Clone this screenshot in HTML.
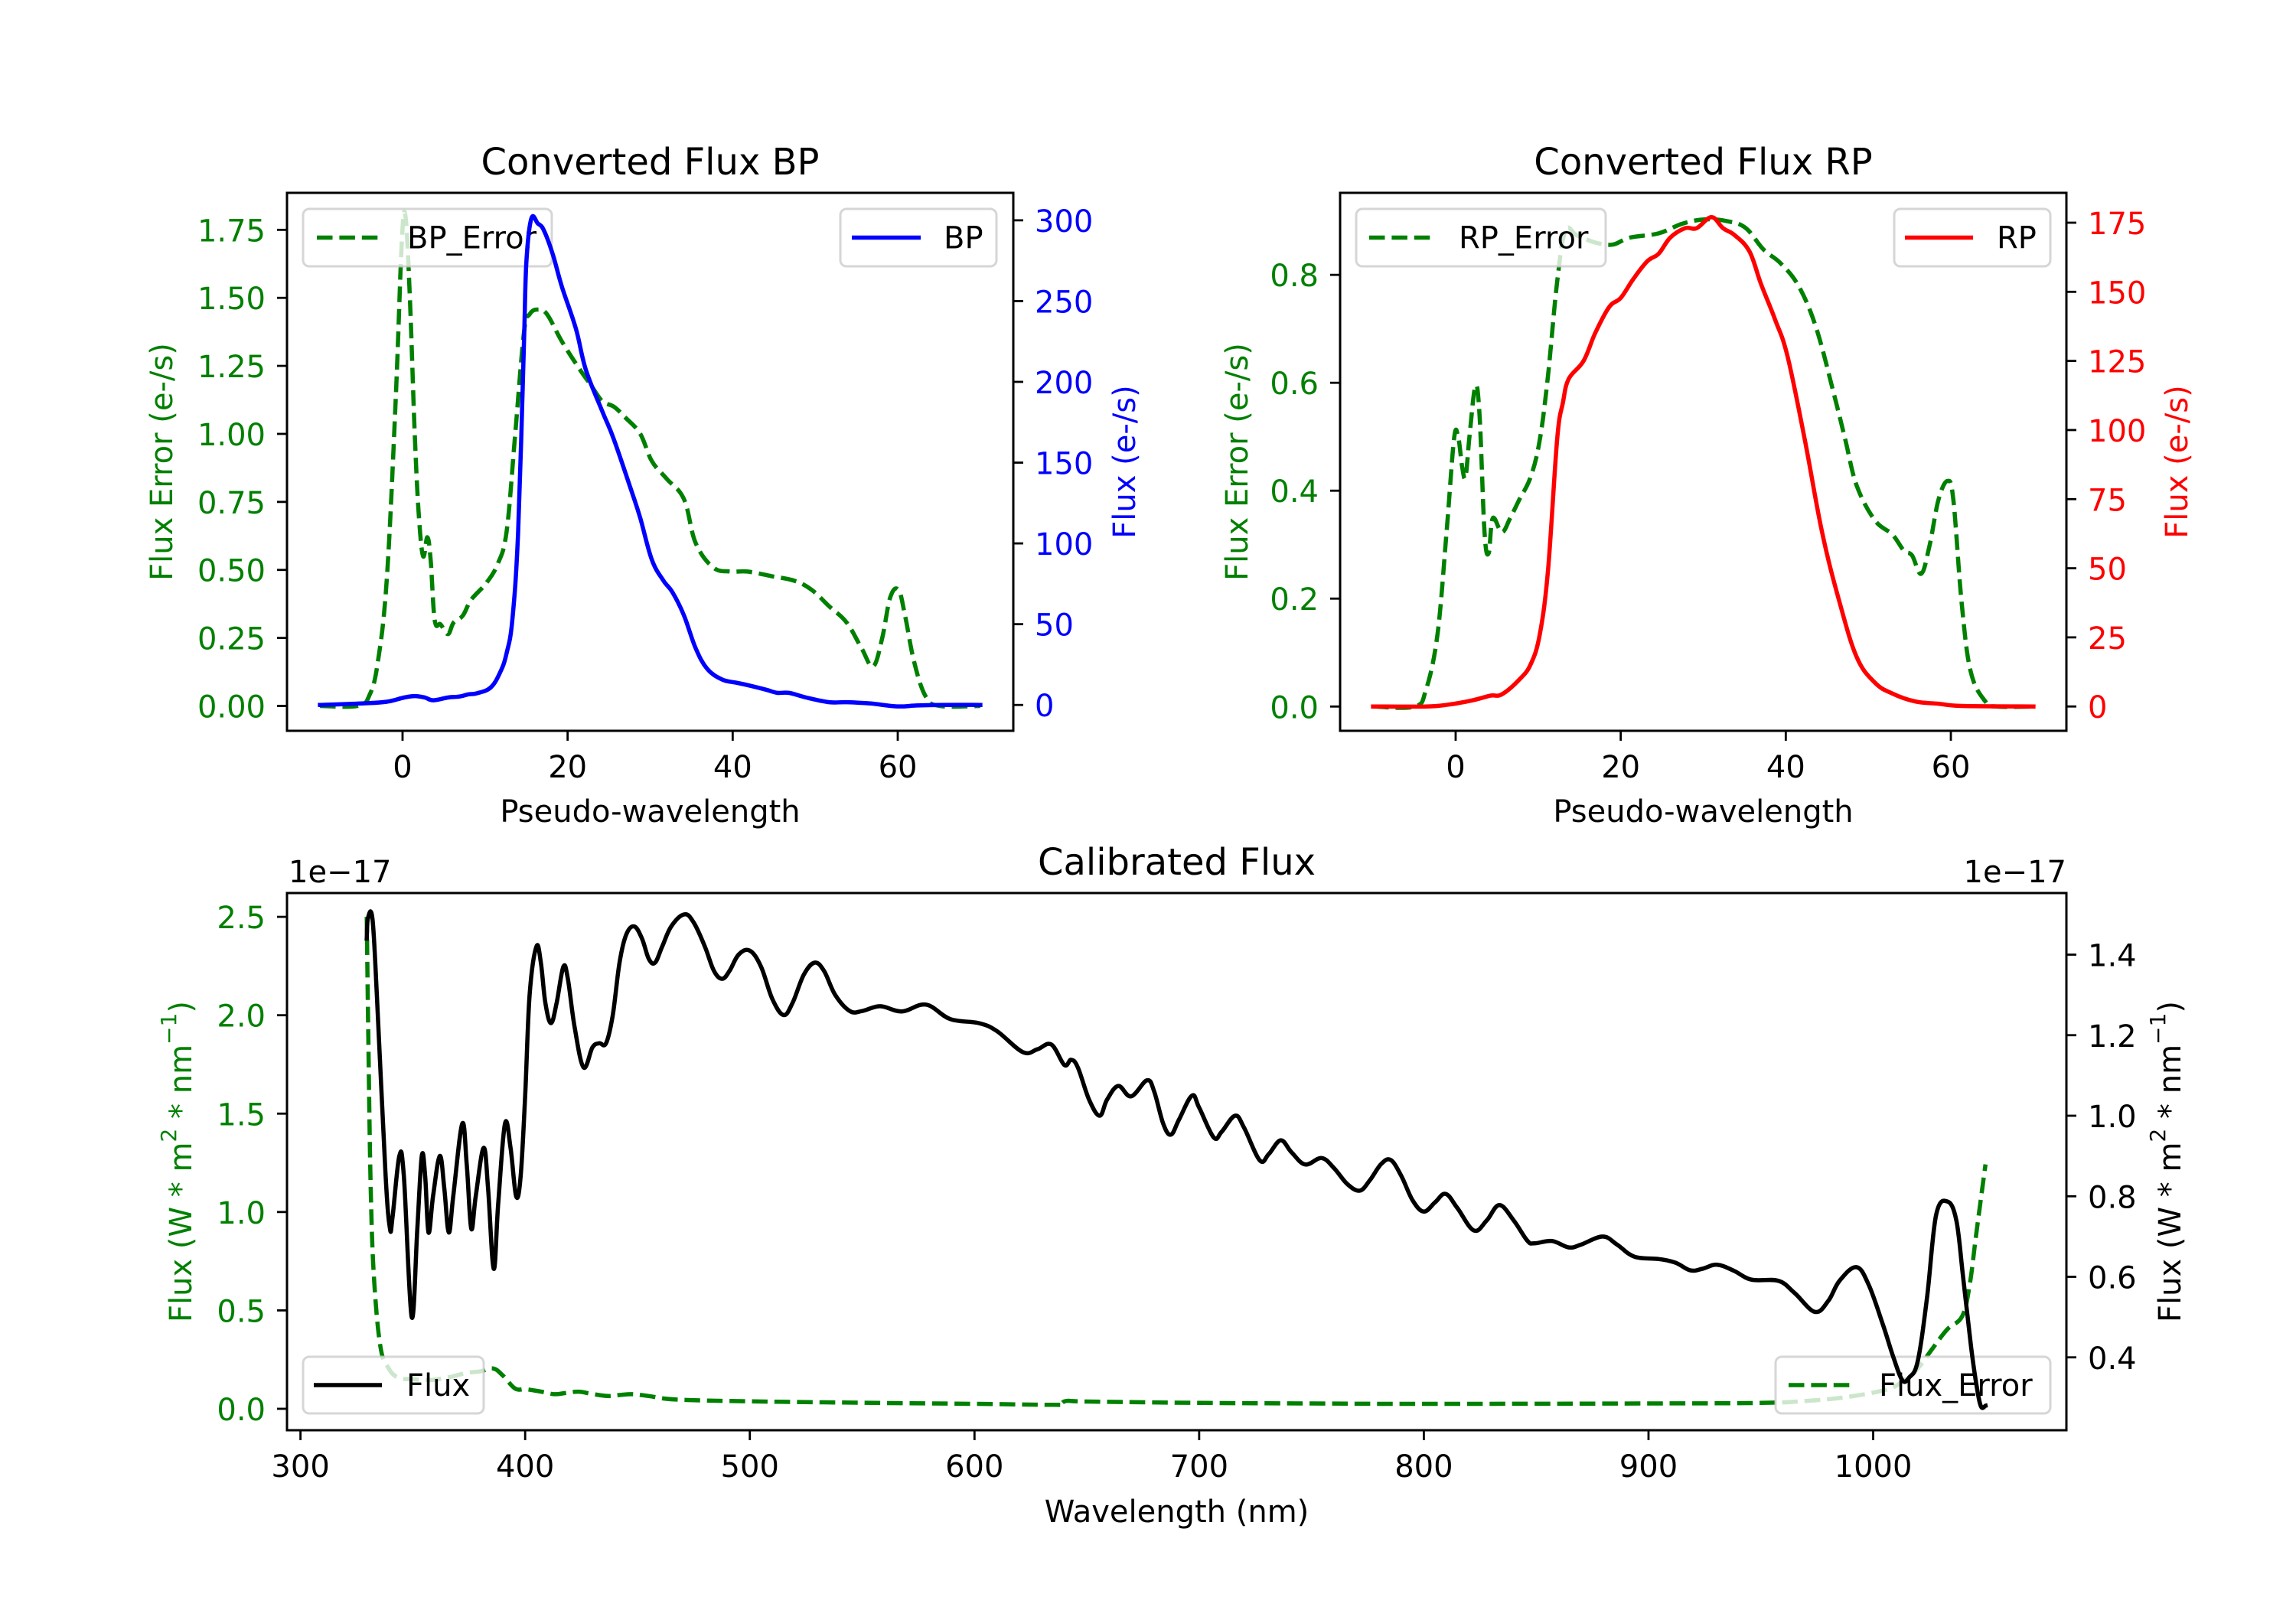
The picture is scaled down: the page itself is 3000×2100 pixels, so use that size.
<!DOCTYPE html>
<html>
<head>
<meta charset="utf-8">
<style>
html,body{margin:0;padding:0;background:#fff;}
svg{display:block;font-family:"DejaVu Sans","Liberation Sans",sans-serif;}
</style>
</head>
<body>
<svg id="chart" xmlns="http://www.w3.org/2000/svg" width="3000" height="2100" viewBox="0 0 3000 2100">
<rect x="0" y="0" width="3000" height="2100" fill="#fff"/>
</svg>
<script>
// ---------- Data ----------
const bpX = [-10,-4.7,-1.9,0.2,1.5,2.7,3.7,5.5,6.9,8,9,10.7,11.9,12.6,13.3,14,14.7,15,15.6,16.4,17.1,18.2,19.3,21,22.2,24.2,25.6,27.7,28.8,30.2,31.6,32.7,34.1,35.5,36.9,38.7,40.4,41.8,44,45.4,46.8,48.9,51.7,53.8,56.7,59.9,62.3,65.1,70];
const bpFlux = [0,1,2,4.6,5.5,4.6,2.9,4.6,5.2,6.6,7.2,10.9,21,32,52.5,107,222,273.6,301,298,294,279,259,233,207.6,181.7,164.5,133,115.7,89.9,77,69.8,55.4,35.3,22.4,15.8,13.8,12.3,9.5,7.5,7.5,4.6,1.7,1.7,0.9,-0.9,-0.3,0,0];
const bpErrX = [-10,-5.4,-4,-3,-1.9,-0.8,-0.1,0.35,0.9,1.5,2.0,2.5,3.0,3.4,3.9,4.6,5.5,6.2,7.3,8.3,10.1,11.5,12.6,13.6,14.7,15.4,16.4,17.5,19.3,21.4,22.8,24.2,25.6,27,28.8,30.2,32,34.1,35.5,37.6,39.7,41.8,44.7,47.5,49.6,51.7,53.8,55.6,57,58.1,59.1,60.1,60.9,62,63.4,65.1,70];
const bpErr = [0,0,0.04,0.16,0.47,1.15,1.70,1.80,1.49,0.98,0.69,0.55,0.62,0.54,0.315,0.30,0.264,0.307,0.332,0.39,0.45,0.52,0.64,0.98,1.37,1.44,1.457,1.44,1.34,1.24,1.18,1.12,1.10,1.06,1.0,0.90,0.835,0.76,0.60,0.51,0.494,0.494,0.477,0.46,0.426,0.366,0.307,0.213,0.145,0.247,0.40,0.426,0.33,0.16,0.034,0,0];
const rpX = [-10,-3.6,-0.8,2.0,4.2,5.6,7.7,9.1,10.2,11.2,12.3,13,13.7,15.5,16.9,18.6,20,21.5,23.2,24.6,26,27.8,29.2,31,32.4,33.8,35.6,37,38.7,40.2,42.3,44.4,46.5,48.6,50.8,52.9,55.7,58.5,61.3,70];
const rpFlux = [0,0,0.7,2.2,3.9,4.4,9.7,15.3,26.2,49.7,96.6,110,118.5,125,135,144.5,147.8,154.5,161,163.8,169.6,173,173,177,173,170.5,164.6,152.8,140,126.8,96.6,63,37.9,17.8,8.6,4.7,1.8,1,0.2,0];
const rpErrX = [-10,-5,-3.6,-2.2,-1.1,-0.2,0.3,0.8,1.2,1.7,2.4,2.9,3.5,4.0,4.5,5.6,6.6,7.7,9.1,10.2,11.2,12.3,13.3,14.7,16.9,19,21.1,24.6,27.5,30.3,33.1,35.2,37.3,39.4,41.6,43.7,45.8,47.2,48.6,50.8,52.9,54.3,55.3,56.4,57.4,58.5,59.6,60.3,61.3,62.4,64.2,65.6,70];
const rpErr = [0,0,0.031,0.134,0.323,0.495,0.50,0.443,0.426,0.504,0.594,0.538,0.323,0.284,0.349,0.323,0.349,0.383,0.426,0.495,0.615,0.787,0.882,0.873,0.86,0.856,0.869,0.877,0.895,0.903,0.899,0.886,0.847,0.821,0.778,0.701,0.581,0.495,0.409,0.345,0.319,0.289,0.28,0.246,0.297,0.383,0.418,0.383,0.194,0.065,0.009,0,0];
const calWl = [329.5,330,332,334,337.8,339.8,341,344,346,349.5,352,354,355.5,357,359,362,364,366,368,372,374,376,378,381.5,383.5,386,388,391,393.5,396,398,400,402,405,407,409,411.5,414,417,419,422,426,430,433,436,439,442,445,448.6,452,455,457.8,461,465,470.8,475,480,484,487.7,491,495,500,505,510,515,519,524,528.8,533,538,544.5,550,558,567.7,578.4,589.2,601.9,610,621.5,628,634.2,640,643,646,651,655.7,659,664,669.7,676.8,680,684,687.4,691,696.8,700,706.5,710,716,720,727,731,736.3,741,747.2,754.5,760,766,771.5,776,781,785.3,790,795,800,805,809.7,815,822.3,828,833.6,840,846,849.2,857,864.5,870,879.6,886,893.7,904.6,912,918.6,924,930.5,938,945.8,957.8,965,974,980,985,992.5,998,1004.4,1009,1013,1016,1019.8,1024,1028,1033,1037,1040,1043.6,1046,1048,1050];
const calFlux = [1.44,1.49,1.49,1.30,0.86,0.72,0.75,0.90,0.85,0.50,0.72,0.90,0.85,0.71,0.80,0.90,0.82,0.71,0.80,0.98,0.88,0.72,0.80,0.92,0.82,0.62,0.78,0.98,0.92,0.80,0.85,1.05,1.30,1.42,1.38,1.28,1.23,1.28,1.37,1.34,1.22,1.12,1.17,1.18,1.18,1.25,1.38,1.45,1.47,1.44,1.39,1.38,1.42,1.47,1.50,1.48,1.42,1.36,1.34,1.36,1.40,1.41,1.37,1.29,1.25,1.28,1.35,1.38,1.36,1.30,1.26,1.26,1.272,1.259,1.276,1.24,1.23,1.21,1.158,1.165,1.177,1.126,1.139,1.12,1.04,1.0,1.04,1.074,1.048,1.088,1.06,0.98,0.953,0.99,1.05,1.02,0.946,0.96,1.0,0.97,0.889,0.905,0.939,0.91,0.879,0.895,0.87,0.83,0.814,0.84,0.88,0.89,0.85,0.79,0.762,0.785,0.806,0.77,0.715,0.74,0.778,0.74,0.69,0.683,0.689,0.673,0.68,0.70,0.68,0.65,0.644,0.635,0.616,0.62,0.63,0.615,0.593,0.59,0.56,0.513,0.54,0.59,0.624,0.58,0.48,0.40,0.343,0.35,0.39,0.55,0.753,0.787,0.74,0.60,0.425,0.33,0.278,0.28];
const calErrWl = [329.5,330.2,331.3,332.8,335.6,339,343.3,350,358.5,366,373.7,380,385.7,390,395.5,400,404.2,408,412.9,418,423.8,430,436.8,442,447.7,455,467.3,499.9,556.4,600,635,638,641,650,700,750,800,900,950,970,987,1004.4,1012,1019.8,1026,1033,1039.6,1042.9,1046,1050];
const calErr = [2.50,1.88,1.10,0.65,0.315,0.21,0.159,0.15,0.147,0.16,0.182,0.19,0.205,0.17,0.103,0.10,0.093,0.085,0.074,0.08,0.087,0.075,0.065,0.07,0.074,0.065,0.047,0.038,0.03,0.025,0.02,0.022,0.04,0.037,0.03,0.027,0.025,0.027,0.03,0.04,0.058,0.093,0.13,0.205,0.3,0.404,0.47,0.627,0.90,1.242];

// ---------- Ticks ----------
const pseudoTicks = [0,20,40,60];
const bpLeftTicks = [0,0.25,0.5,0.75,1.0,1.25,1.5,1.75];
const bpLeftLabels = ['0.00','0.25','0.50','0.75','1.00','1.25','1.50','1.75'];
const bpRightTicks = [0,50,100,150,200,250,300];
const rpLeftTicks = [0,0.2,0.4,0.6,0.8];
const rpLeftLabels = ['0.0','0.2','0.4','0.6','0.8'];
const rpRightTicks = [0,25,50,75,100,125,150,175];
const calXTicks = [300,400,500,600,700,800,900,1000];
const calLeftTicks = [0,0.5,1.0,1.5,2.0,2.5];
const calLeftLabels = ['0.0','0.5','1.0','1.5','2.0','2.5'];
const calRightTicks = [0.4,0.6,0.8,1.0,1.2,1.4];
const calRightLabels = ['0.4','0.6','0.8','1.0','1.2','1.4'];

// ---------- Helpers ----------
const NS = 'http://www.w3.org/2000/svg';
const svg = document.getElementById('chart');
const FS = 40;
const TFS = 48;
const LW = 5.5;
const DASH = '20.5 8.9';
const GREEN = '#008000';
function mk(tag, attrs, parent) {
  const e = document.createElementNS(NS, tag);
  for (const k in attrs) e.setAttribute(k, attrs[k]);
  (parent || svg).appendChild(e);
  return e;
}
function lin(d0, d1, r0, r1) { return v => r0 + (v - d0) * (r1 - r0) / (d1 - d0); }
function txt(x, y, s, anchor, size, fill, name) {
  const t = mk('text', {x: x, y: y, 'text-anchor': anchor, 'font-size': size, fill: fill});
  t.textContent = s;
  
  
  return t;
}
function smoothPath(pts) {
  let d = 'M' + pts[0][0].toFixed(1) + ',' + pts[0][1].toFixed(1);
  const t = 0.18;
  for (let i = 0; i < pts.length - 1; i++) {
    const p0 = pts[Math.max(0, i - 1)], p1 = pts[i], p2 = pts[i + 1], p3 = pts[Math.min(pts.length - 1, i + 2)];
    const c1x = p1[0] + (p2[0] - p0[0]) * t, c1y = p1[1] + (p2[1] - p0[1]) * t;
    const c2x = p2[0] - (p3[0] - p1[0]) * t, c2y = p2[1] - (p3[1] - p1[1]) * t;
    d += 'C' + c1x.toFixed(1) + ',' + c1y.toFixed(1) + ' ' + c2x.toFixed(1) + ',' + c2y.toFixed(1) + ' ' + p2[0].toFixed(1) + ',' + p2[1].toFixed(1);
  }
  return d;
}
function series(xs, ys, sx, sy, color, dashed, name) {
  const pts = xs.map((x, i) => [sx(x), sy(ys[i])]);
  const p = mk('path', {d: smoothPath(pts), fill: 'none', stroke: color, 'stroke-width': LW, 'stroke-linejoin': 'round', 'stroke-linecap': dashed ? 'butt' : 'square'});
  if (dashed) p.setAttribute('stroke-dasharray', DASH);
  
  
}
function legend(x0, x1, y0, y1, lx0, lx1, tx, color, dashed, label, name) {
  const r = mk('rect', {x: x0, y: y0, width: x1 - x0, height: y1 - y0, rx: 8, fill: '#fff', 'fill-opacity': 0.8, stroke: '#cccccc', 'stroke-opacity': 0.8, 'stroke-width': 3});
  
  
  const cy = (y0 + y1) / 2;
  const l = mk('line', {x1: lx0, x2: lx1, y1: cy, y2: cy, stroke: color, 'stroke-width': LW});
  if (dashed) l.setAttribute('stroke-dasharray', DASH);
  
  
  txt(tx, cy + 14, label, 'start', FS, '#000', name + '-label');
}
function frame(L, R, T, B, name) {
  const r = mk('rect', {x: L, y: T, width: R - L, height: B - T, fill: 'none', stroke: '#000', 'stroke-width': 3});
  
  
}
function xTicks(ticks, sx, B, labelY, name) {
  ticks.forEach(v => {
    const x = sx(v);
    const l = mk('line', {x1: x, x2: x, y1: B, y2: B + 13, stroke: '#000', 'stroke-width': 2.8});
    
    
    txt(x, labelY, String(v), 'middle', FS, '#000', name + '-tick-label');
  });
}
function yTicks(ticks, labels, sy, X, side, color, name) {
  ticks.forEach((v, i) => {
    const y = sy(v);
    const dir = side === 'left' ? -1 : 1;
    const l = mk('line', {x1: X, x2: X + dir * 13, y1: y, y2: y, stroke: '#000', 'stroke-width': 2.8});
    
    
    txt(X + dir * 28, y + 15, labels[i], side === 'left' ? 'end' : 'start', FS, color, name + '-tick-label');
  });
}
function yLabel(x, y, parts, color, name) {
  const t = mk('text', {x: 0, y: 0, 'text-anchor': 'middle', 'font-size': FS, fill: color, 'dominant-baseline': 'central', transform: 'translate(' + x + ',' + y + ') rotate(-90)'});
  parts.forEach(p => {
    const s = mk('tspan', {}, t);
    s.textContent = p[0];
    if (p[1]) { s.setAttribute('baseline-shift', 'super'); s.setAttribute('font-size', 28); }
  });
  
  
}

// ---------- BP panel ----------
(function () {
  const L = 375, R = 1324, T = 252, B = 955;
  const sx = lin(-14, 74, L, R);
  const syL = lin(-0.0914, 1.886, B, T);
  const syR = lin(-16, 317, B, T);
  series(bpErrX, bpErr, sx, syL, GREEN, true, 'bp-error-line');
  legend(396, 721, 273, 348, 414, 497, 532, GREEN, true, 'BP_Error', 'bp-error-legend');
  series(bpX, bpFlux, sx, syR, '#0000ff', false, 'bp-flux-line');
  legend(1098, 1302, 273, 348, 1113, 1203, 1233, '#0000ff', false, 'BP', 'bp-legend');
  frame(L, R, T, B, 'bp-plot-frame');
  xTicks(pseudoTicks, sx, B, 1016, 'bp-x');
  yTicks(bpLeftTicks, bpLeftLabels, syL, L, 'left', GREEN, 'bp-left-y');
  yTicks(bpRightTicks, bpRightTicks.map(String), syR, R, 'right', '#0000ff', 'bp-right-y');
  txt((L + R) / 2, 228, 'Converted Flux BP', 'middle', TFS, '#000', 'bp-title');
  txt((L + R) / 2, 1074, 'Pseudo-wavelength', 'middle', FS, '#000', 'bp-x-axis-title');
  yLabel(212, (T + B) / 2, [['Flux Error (e-/s)']], GREEN, 'bp-left-y-axis-title');
  yLabel(1470, (T + B) / 2, [['Flux (e-/s)']], '#0000ff', 'bp-right-y-axis-title');
})();

// ---------- RP panel ----------
(function () {
  const L = 1751, R = 2700, T = 252, B = 955;
  const sx = lin(-14, 74, L, R);
  const syL = lin(-0.045, 0.952, B, T);
  const syR = lin(-8.8, 185.8, B, T);
  series(rpErrX, rpErr, sx, syL, GREEN, true, 'rp-error-line');
  legend(1772, 2098, 273, 348, 1789, 1872, 1906, GREEN, true, 'RP_Error', 'rp-error-legend');
  series(rpX, rpFlux, sx, syR, '#ff0000', false, 'rp-flux-line');
  legend(2475, 2679, 273, 348, 2489, 2578, 2609, '#ff0000', false, 'RP', 'rp-legend');
  frame(L, R, T, B, 'rp-plot-frame');
  xTicks(pseudoTicks, sx, B, 1016, 'rp-x');
  yTicks(rpLeftTicks, rpLeftLabels, syL, L, 'left', GREEN, 'rp-left-y');
  yTicks(rpRightTicks, rpRightTicks.map(String), syR, R, 'right', '#ff0000', 'rp-right-y');
  txt((L + R) / 2, 228, 'Converted Flux RP', 'middle', TFS, '#000', 'rp-title');
  txt((L + R) / 2, 1074, 'Pseudo-wavelength', 'middle', FS, '#000', 'rp-x-axis-title');
  yLabel(1617, (T + B) / 2, [['Flux Error (e-/s)']], GREEN, 'rp-left-y-axis-title');
  yLabel(2845, (T + B) / 2, [['Flux (e-/s)']], '#ff0000', 'rp-right-y-axis-title');
})();

// ---------- Calibrated panel ----------
(function () {
  const L = 375, R = 2700, T = 1167, B = 1869;
  const sx = lin(294, 1086, L, R);
  const syL = lin(-0.109, 2.621, B, T);
  const syR = lin(0.219, 1.553, B, T);
  series(calErrWl, calErr, sx, syL, GREEN, true, 'calibrated-error-line');
  legend(2320, 2679, 1773, 1847, 2337, 2420, 2455, GREEN, true, 'Flux_Error', 'flux-error-legend');
  series(calWl, calFlux, sx, syR, '#000', false, 'calibrated-flux-line');
  legend(396, 632, 1773, 1847, 410, 499, 531, '#000', false, 'Flux', 'flux-legend');
  frame(L, R, T, B, 'calibrated-plot-frame');
  xTicks(calXTicks, sx, B, 1930, 'calibrated-x');
  yTicks(calLeftTicks, calLeftLabels, syL, L, 'left', GREEN, 'calibrated-left-y');
  yTicks(calRightTicks, calRightLabels, syR, R, 'right', '#000', 'calibrated-right-y');
  txt((L + R) / 2, 1143, 'Calibrated Flux', 'middle', TFS, '#000', 'calibrated-title');
  txt(377, 1153, '1e\u221217', 'start', FS, '#000', 'left-offset-text');
  txt(2700, 1153, '1e\u221217', 'end', FS, '#000', 'right-offset-text');
  txt((L + R) / 2, 1989, 'Wavelength (nm)', 'middle', FS, '#000', 'calibrated-x-axis-title');
  yLabel(237, (T + B) / 2, [['Flux (W * m'], ['2', true], [' * nm'], ['\u22121', true], [')']], GREEN, 'calibrated-left-y-axis-title');
  yLabel(2836, (T + B) / 2, [['Flux (W * m'], ['2', true], [' * nm'], ['\u22121', true], [')']], '#000', 'calibrated-right-y-axis-title');
})();
</script>
</body>
</html>
